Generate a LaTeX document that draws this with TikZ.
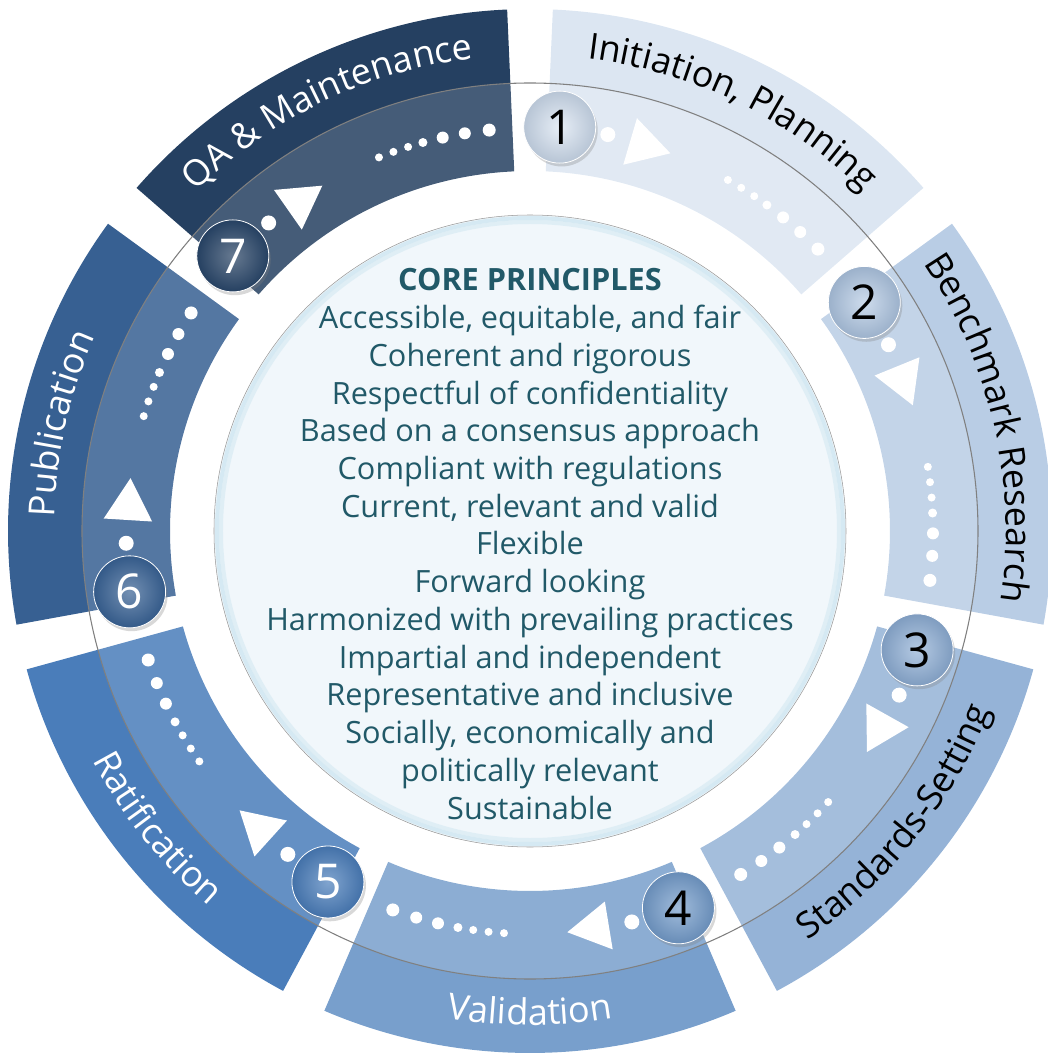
\documentclass[tikz,border=0pt]{standalone}
\usepackage{fontspec}
\setmainfont{Open Sans}
\usetikzlibrary{decorations.text,shadows}
\definecolor{band1}{HTML}{DCE6F2}
\definecolor{band2}{HTML}{B9CDE5}
\definecolor{band3}{HTML}{95B3D7}
\definecolor{band4}{HTML}{789FCC}
\definecolor{band5}{HTML}{4A7DBA}
\definecolor{band6}{HTML}{376092}
\definecolor{band7}{HTML}{254061}
\definecolor{coretext}{HTML}{215968}
\definecolor{corefill}{HTML}{F1F7FB}
\definecolor{coreglow}{HTML}{CFE6F1}
\newcommand\bandfont{\fontsize{27}{30}\selectfont}
\begin{document}
\begin{tikzpicture}[x=0.75pt,y=0.75pt,
  stepball/.style={circle,minimum size=54pt,inner sep=0pt,draw=white,line width=0.6pt,
    font=\fontsize{36}{36}\selectfont,
    drop shadow={shadow xshift=1.5pt,shadow yshift=-2.5pt,opacity=0.3}},
  core/.style={align=center,text=coretext,font=\fontsize{23}{28.3}\selectfont},
  label/.style={decorate,decoration={text along path,text align=center,text={#1}}}]
\useasboundingbox (-530,-526) rectangle (518,531);
% bands
\fill[band1] (87.49:360) arc[start angle=87.49,end angle=41.09,radius=360] -- (41.09:522) arc[start angle=41.09,end angle=87.49,radius=522] -- cycle;
\fill[band2] (36.06:360) arc[start angle=36.06,end angle=-10.34,radius=360] -- (-10.34:522) arc[start angle=-10.34,end angle=36.06,radius=522] -- cycle;
\fill[band3] (-15.37:360) arc[start angle=-15.37,end angle=-61.77,radius=360] -- (-61.77:522) arc[start angle=-61.77,end angle=-15.37,radius=522] -- cycle;
\fill[band4] (-66.8:360) arc[start angle=-66.8,end angle=-113.2,radius=360] -- (-113.2:522) arc[start angle=-113.2,end angle=-66.8,radius=522] -- cycle;
\fill[band5] (-118.23:360) arc[start angle=-118.23,end angle=-164.63,radius=360] -- (-164.63:522) arc[start angle=-164.63,end angle=-118.23,radius=522] -- cycle;
\fill[band6] (190.34:360) arc[start angle=190.34,end angle=143.94,radius=360] -- (143.94:522) arc[start angle=143.94,end angle=190.34,radius=522] -- cycle;
\fill[band7] (138.91:360) arc[start angle=138.91,end angle=92.51,radius=360] -- (92.51:522) arc[start angle=92.51,end angle=138.91,radius=522] -- cycle;
% glass ring and core
\fill[white,fill opacity=0.15,even odd rule] (0,0) circle[radius=448] circle[radius=316];
\draw[gray,line width=0.8pt] (0,0) circle[radius=448];
\fill[corefill] (0,0) circle[radius=316];
\draw[coreglow,line width=3pt,opacity=0.5] (0,0) circle[radius=309];
\draw[coreglow,line width=3pt,opacity=0.8] (0,0) circle[radius=313];
\draw[gray!80] (0,0) circle[radius=316];
\node[core] (core) at (0,-13) {\textbf{CORE PRINCIPLES}\\
  Accessible, equitable, and fair\\
  Coherent and rigorous\\
  Respectful of confidentiality\\
  Based on a consensus approach\\
  Compliant with regulations\\
  Current, relevant and valid\\
  Flexible\\
  Forward looking\\
  Harmonized with prevailing practices\\
  Impartial and independent\\
  Representative and inclusive\\
  Socially, economically and\\
  politically relevant\\
  Sustainable};
% dots, arrows and numbered steps
\foreach \c/\col/\tc/\n in {64.29/band1/black/1,12.86/band2/black/2,-38.57/band3/black/3,
    -90/band4/black/4,-141.43/band5/white/5,-192.86/band6/white/6,115.71/band7/white/7}{
  \foreach \d/\r in {3.7/4,5.9/4,8.1/4,10.3/4.5,13.2/6,16.4/6,19.9/6.5}
    \fill[white] (\c-\d:403) circle[radius=\r];
  \fill[white,shift={(\c+9.3:402)}] (\c-80.7:28) -- (\c+39.3:28) -- (\c+159.3:28) -- cycle;
  \fill[white] (\c+14.6:404) circle[radius=7.5];
  \node[stepball,shading=radial,inner color=\col!70!white,outer color=\col!80!band7,text=\tc] (s\n) at (\c+21.5:405) {\n};
}
% labels
\path[label={|\bandfont|Initiation, Planning}] (87.49:476) arc[start angle=87.49,end angle=41.09,radius=476];
\path[label={|\bandfont|Benchmark Research}] (36.06:476) arc[start angle=36.06,end angle=-10.34,radius=476];
\path[label={|\bandfont|Standards-Setting}] (-61.77:494) arc[start angle=-61.77,end angle=-15.37,radius=494];
\path[label={|\bandfont\color{white}|Validation}] (-113.2:494) arc[start angle=-113.2,end angle=-66.8,radius=494];
\path[label={|\bandfont\color{white}|Ratification}] (-164.63:494) arc[start angle=-164.63,end angle=-118.23,radius=494];
\path[label={|\bandfont\color{white}|Publication}] (190.34:476) arc[start angle=190.34,end angle=143.94,radius=476];
\path[label={|\bandfont\color{white}|QA {\&} Maintenance}] (138.91:476) arc[start angle=138.91,end angle=92.51,radius=476];
\end{tikzpicture}
\end{document}
